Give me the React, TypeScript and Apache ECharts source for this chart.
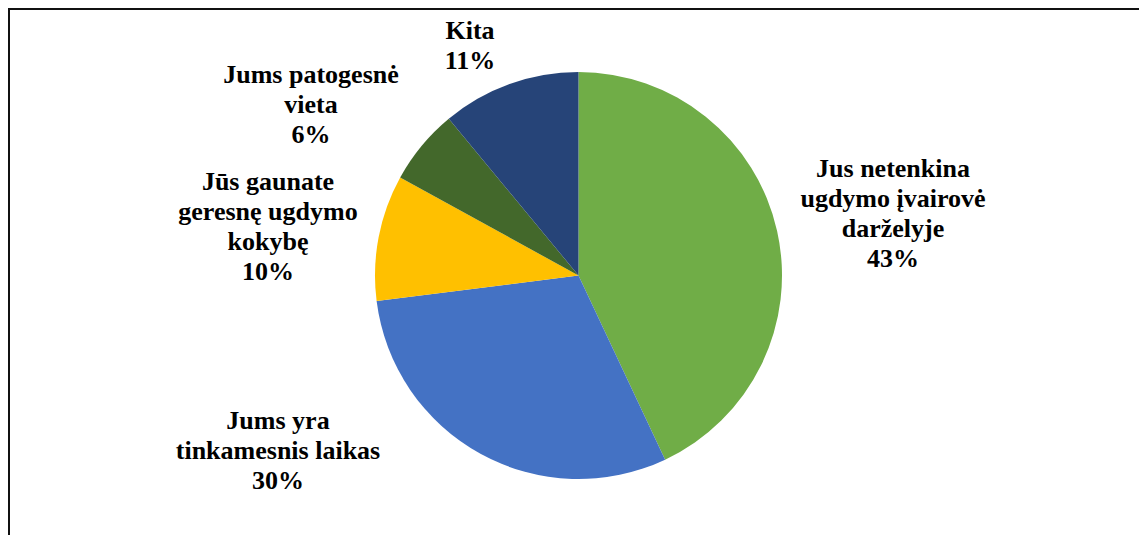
import React, { useEffect, useRef } from "react";
import * as echarts from "echarts";

const categories = [
  "Jus netenkina\nugdymo įvairovė\ndarželyje",
  "Jums yra\ntinkamesnis laikas",
  "Jūs gaunate\ngeresnę ugdymo\nkokybę",
  "Jums patogesnė\nvieta",
  "Kita",
];
const values = [43, 30, 10, 6, 11];
const colors = ["#70AD47", "#4472C4", "#FFC000", "#43682B", "#264478"];

// label block centres (pixels)
const labelCenters: [number, number][] = [
  [893, 213],
  [278, 450],
  [268, 226],
  [311, 104],
  [470, 45],
];

const FONT = "Times New Roman, Liberation Serif, serif";

export default function App() {
  const ref = useRef<HTMLDivElement>(null);
  useEffect(() => {
    if (!ref.current) return;
    const chart = echarts.init(ref.current, undefined, { renderer: "svg" });
    chart.setOption({
      animation: false,
      backgroundColor: "#fff",
      textStyle: { fontFamily: FONT },
      graphic: [
        { type: "line", shape: { x1: 8, y1: 9, x2: 1139, y2: 9 }, style: { stroke: "#111", lineWidth: 2 } },
        { type: "line", shape: { x1: 9, y1: 8, x2: 9, y2: 535 }, style: { stroke: "#111", lineWidth: 2 } },
      ],
      series: [
        {
          type: "pie",
          center: [578.5, 275.5],
          radius: 203.5,
          startAngle: 90,
          clockwise: true,
          data: categories.map((c, i) => ({ name: c, value: values[i], itemStyle: { color: colors[i] } })),
          itemStyle: { borderWidth: 0 },
          label: {
            show: true,
            position: "outside",
            formatter: "{b}\n{d}%",
            fontFamily: FONT,
            fontWeight: "bold",
            fontSize: 26,
            lineHeight: 30,
            color: "#000",
            align: "center",
          },
          labelLine: { show: false },
          labelLayout: (p: any) => {
            const c = labelCenters[p.dataIndex];
            return { x: c[0], y: c[1], align: "center", verticalAlign: "middle" };
          },
          emphasis: { disabled: true },
        },
      ],
    });
    return () => chart.dispose();
  }, []);
  return <div ref={ref} style={{ position: "fixed", left: 0, top: 0, width: 1139, height: 535 }} />;
}
